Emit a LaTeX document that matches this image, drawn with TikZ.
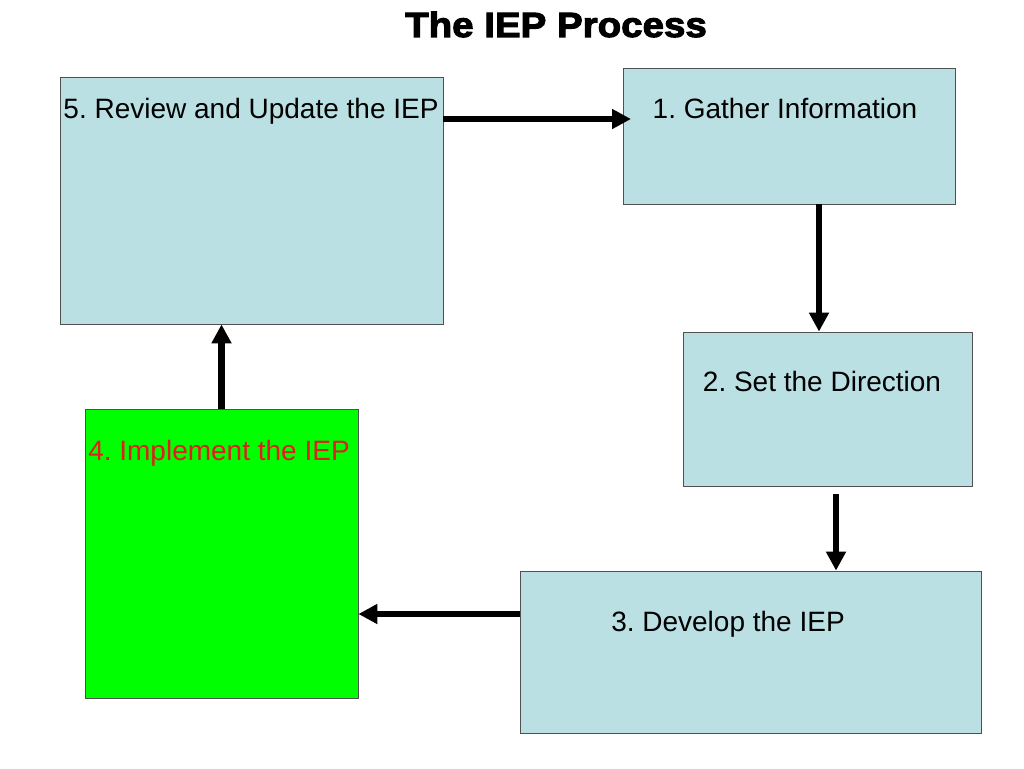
\documentclass[tikz,border=0pt]{standalone}
\usepackage{fontspec}
\usepackage{xcolor}
\setmainfont{Liberation Sans}
\newfontfamily\titlefont{Liberation Sans Bold}[FakeBold=3,FakeStretch=1.1]
\usetikzlibrary{arrows.meta}
\frenchspacing

\definecolor{boxblue}{RGB}{187,224,227}
\definecolor{boxgreen}{RGB}{0,255,0}
\definecolor{textred}{RGB}{225,30,30}
\definecolor{edge}{RGB}{80,80,80}

\tikzset{
  stagebox/.style={rectangle, draw=edge, line width=0.8pt, fill=boxblue, inner sep=0pt},
  stagetext/.style={anchor=base, inner sep=0pt, font=\fontsize{28}{32}\selectfont},
  flow/.style={line width=6.5pt, -{Triangle[length=19pt,width=19pt]}}
}

\begin{document}
\begin{tikzpicture}[x=1pt,y=-1pt]
    \useasboundingbox (0,0) rectangle (1024,768);

    \node[inner sep=0pt, anchor=base, font=\titlefont\fontsize{35}{40}\selectfont] (title) at (556,37) {The IEP Process};

    \node[stagebox, minimum width=383pt, minimum height=247pt] (review) at (251.5,200.5) {};
    \node[stagebox, minimum width=332pt, minimum height=136pt] (gather) at (789,136) {};
    \node[stagebox, minimum width=289pt, minimum height=154pt] (direction) at (827.5,409) {};
    \node[stagebox, minimum width=461pt, minimum height=162pt] (develop) at (750.5,652) {};
    \node[stagebox, fill=boxgreen, minimum width=273pt, minimum height=289pt] (implement) at (221.5,553.5) {};

    \node[stagetext] (reviewtxt) at (251,118) {5. Review and Update the IEP};
    \node[stagetext] (gathertxt) at (785,118) {1. Gather Information};
    \node[stagetext] (directiontxt) at (822,391) {2. Set the Direction};
    \node[stagetext] (developtxt) at (728,631) {3. Develop the IEP};
    \node[stagetext, text=textred] (implementtxt) at (219,460) {4. Implement the IEP};

    \coordinate (a1) at (631,119);
    \coordinate (a2) at (819,0);
    \coordinate (a3) at (836,494);
    \coordinate (a4) at (0,614);

    \draw[flow] (review.east |- a1) -- (a1);
    \draw[flow] (gather.south -| a2) -- (direction.north -| a2);
    \draw[flow] (a3) -- (develop.north -| a3);
    \draw[flow] (develop.west |- a4) -- (implement.east |- a4);
    \draw[flow] (implement.north) -- (review.south -| implement.north);
\end{tikzpicture}
\end{document}
